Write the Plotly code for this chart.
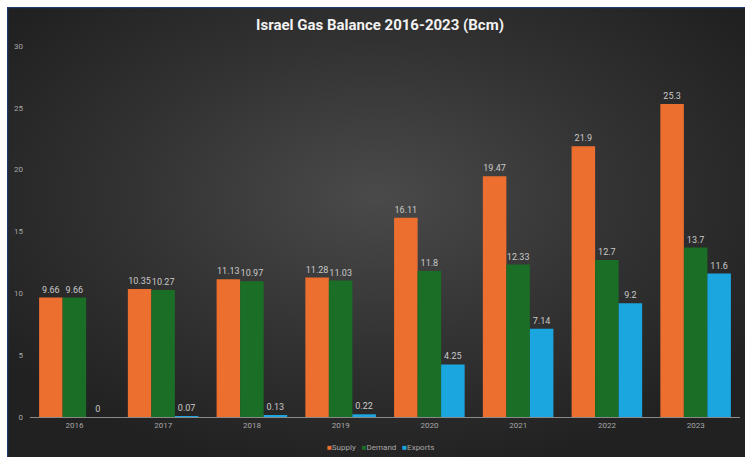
import base64
import plotly.graph_objects as go

# Israel gas balance, billion cubic metres
years = ["2016", "2017", "2018", "2019", "2020", "2021", "2022", "2023"]
supply = [9.66, 10.35, 11.13, 11.28, 16.11, 19.47, 21.9, 25.3]
demand = [9.66, 10.27, 10.97, 11.03, 11.8, 12.33, 12.7, 13.7]
exports = [0, 0.07, 0.13, 0.22, 4.25, 7.14, 9.2, 11.6]

series = [
    ("Supply", supply, "#ec6f2f"),
    ("Demand", demand, "#1b6e25"),
    ("Exports", exports, "#1ca6e0"),
]

W, H = 745, 457
ML, MR, MT, MB = 30, 5, 46, 40
PW, PH = W - ML - MR, H - MT - MB

# dark radial-gradient card drawn as an SVG background image
svg = f"""<svg xmlns='http://www.w3.org/2000/svg' width='{W-7}' height='{H-7}' viewBox='0 0 {W-7} {H-7}'>
<defs><radialGradient id='g' cx='0.5' cy='0.42' r='0.62'>
<stop offset='0' stop-color='#4a4a4a'/><stop offset='0.55' stop-color='#323232'/>
<stop offset='1' stop-color='#212121'/></radialGradient></defs>
<rect x='0' y='0' width='{W-7}' height='{H-7}' fill='url(#g)'/>
<line x1='0' y1='0.5' x2='{W-7}' y2='0.5' stroke='#1f3a6e' stroke-width='1.5'/>
<line x1='0.5' y1='0' x2='0.5' y2='{H-7}' stroke='#1f3a6e' stroke-width='1.5'/>
</svg>"""
bg_src = "data:image/svg+xml;base64," + base64.b64encode(svg.encode()).decode()


def px_x(p):
    return (p - ML) / PW


def px_y(p):
    return (H - MB - p) / PH


FONT = "Roboto, Arial, sans-serif"
label_font = dict(family=FONT, size=9, color="#c9c9c9")

fig = go.Figure()
for name, vals, col in series:
    fig.add_trace(go.Bar(
        x=years, y=vals, name=name,
        marker=dict(color=col, line=dict(width=0)),
        text=[f"{v:g}" for v in vals], textposition="outside",
        textfont=label_font, cliponaxis=False,
    ))

# compact legend row: coloured square followed directly by the series name
legend_text = "   ".join(
    f"<span style='color:{col}'>■</span>{name}" for name, _, col in series
)

fig.update_layout(
    width=W, height=H,
    margin=dict(l=ML, r=MR, t=MT, b=MB, autoexpand=False),
    paper_bgcolor="#ffffff",
    plot_bgcolor="rgba(0,0,0,0)",
    barmode="group", bargap=0.205, bargroupgap=0,
    title=dict(
        text="<b>Israel Gas Balance 2016-2023 (Bcm)</b>",
        x=380 / W, xanchor="center",
        y=1 - 25 / H, yanchor="middle",
        font=dict(family=FONT, size=15, color="#f2f2f2"),
    ),
    showlegend=False,
    annotations=[dict(
        text=legend_text, xref="paper", yref="paper",
        x=px_x(380), y=px_y(447), xanchor="center", yanchor="middle",
        showarrow=False, font=dict(family=FONT, size=8, color="#a8a8a8"),
    )],
    xaxis=dict(
        showgrid=False, showline=True, linecolor="#8a8a8a", linewidth=1,
        ticks="", tickfont=dict(family=FONT, size=8, color="#a8a8a8"),
        zeroline=False,
    ),
    yaxis=dict(
        range=[0, 30], dtick=5, showgrid=False, showline=False, zeroline=False,
        ticks="", ticklabelstandoff=6,
        tickfont=dict(family=FONT, size=8, color="#a8a8a8"),
    ),
    images=[dict(
        source=bg_src, xref="paper", yref="paper",
        x=px_x(7), y=px_y(7), sizex=px_x(W) - px_x(7), sizey=px_y(7) - px_y(H),
        xanchor="left", yanchor="top", sizing="stretch", layer="below",
    )],
)

fig.write_html("out.html")
